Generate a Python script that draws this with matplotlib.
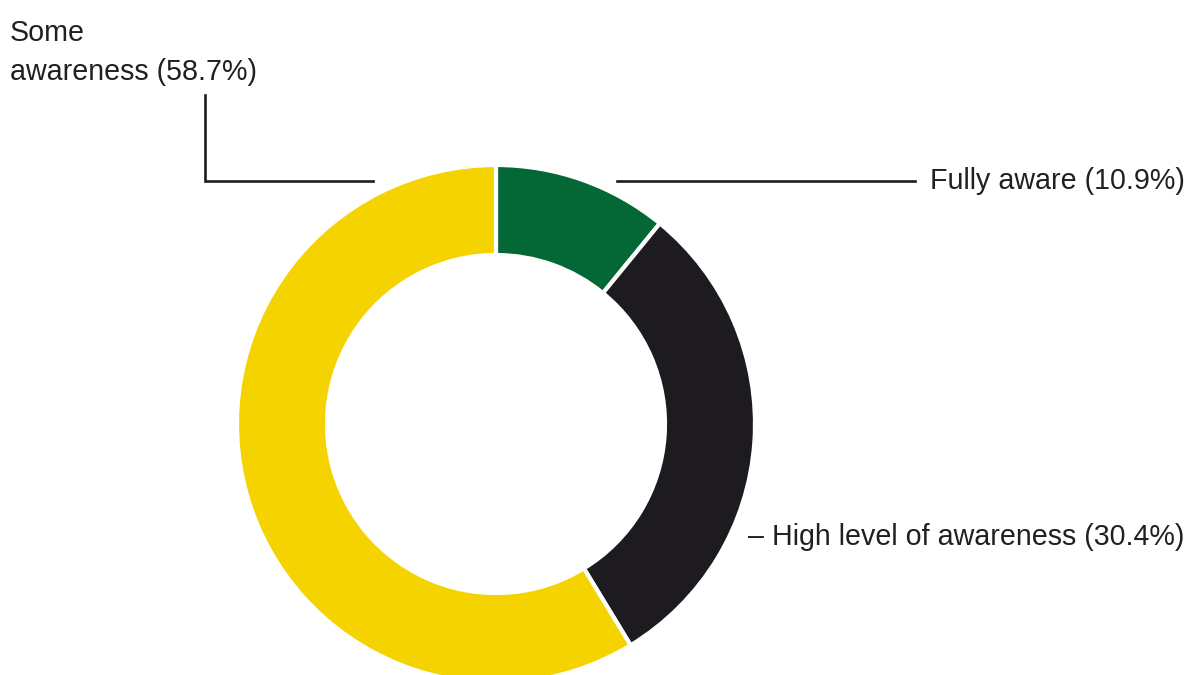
import matplotlib.pyplot as plt

categories = ['Fully aware', 'High level of awareness', 'Some awareness']
shares = [10.9, 30.4, 58.7]
colors = ['#036835', '#1d1b1f', '#f5d300']

plt.rcParams['font.family'] = ['Liberation Sans', 'DejaVu Sans']

width_px, height_px = 1192, 675
fig = plt.figure(figsize=(width_px / 100, height_px / 100), dpi=100)
ax = fig.add_axes([0, 0, 1, 1])

# donut, measured in pixel units so the leader lines line up easily
cx, cy = 496, height_px - 424
outer_r, inner_r = 259, 169
ax.pie(shares, colors=colors, startangle=90, counterclock=False,
       center=(cx, cy), radius=outer_r,
       wedgeprops=dict(width=outer_r - inner_r, edgecolor='white', linewidth=3))

ax.set_xlim(0, width_px)
ax.set_ylim(0, height_px)
ax.set_aspect('equal')
ax.axis('off')

line_color = '#1d1b1f'
text_color = '#231f20'
fs = 20.6

def label(cat, share):
    return f'{cat} ({share}%)'

# Some awareness: elbow leader up to the top-left label
y_elbow = height_px - 181
ax.plot([373, 205, 205], [y_elbow, y_elbow, height_px - 95],
        color=line_color, linewidth=1.9, solid_joinstyle='miter')
ax.text(10, height_px - 19, 'Some\n' + label('awareness', shares[2]),
        fontsize=fs, color=text_color, ha='left', va='top', linespacing=1.5)

# Fully aware
ax.plot([617, 915], [y_elbow, y_elbow], color=line_color, linewidth=1.9)
ax.text(930, y_elbow, label(categories[0], shares[0]),
        fontsize=fs, color=text_color, ha='left', va='center')

# High level of awareness
ax.text(748, height_px - 537, '\u2013 ' + label(categories[1], shares[1]),
        fontsize=fs, color=text_color, ha='left', va='center')

fig.savefig('out.png', dpi=100, facecolor='white')
